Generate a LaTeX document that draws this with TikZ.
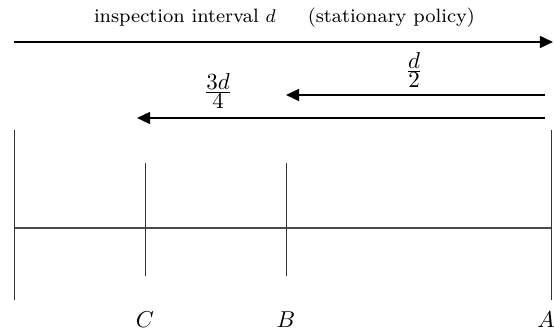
\documentclass[tikz,border=0pt]{standalone}
\usepackage{amsmath,amssymb}
\usepackage{tikz}
\usetikzlibrary{arrows.meta,positioning,calc}

\begin{document}
\begin{tikzpicture}[x=0.435pt, y=-0.435pt, >={Triangle[length=5.7pt,width=5.2pt]},
  bar/.style={draw, line width=0.4pt, black!80},
  axe/.style={draw, line width=0.5pt, black!70},
  arr/.style={->, line width=0.8pt},
  lbl/.style={inner sep=1pt}]
  \useasboundingbox (0,0) rectangle (554,336);
  % time line with the three inspection points
  \coordinate (l0) at (14,130); \coordinate (l1) at (14,300);
  \coordinate (a0) at (551,130); \coordinate (a1) at (551,300);
  \coordinate (c0) at (145,163); \coordinate (c1) at (145,276);
  \coordinate (b0) at (286,163); \coordinate (b1) at (286,276);
  \draw[axe] (14,228) coordinate (o) -- (551,228) coordinate (e);
  \draw[bar] (l0) -- (l1);
  \draw[bar] (a0) -- (a1);
  \draw[bar] (c0) -- (c1);
  \draw[bar] (b0) -- (b1);
  \node[lbl] (nc) at (145,320) {$C$};
  \node[lbl] (nb) at (286,320) {$B$};
  \node[lbl] (na) at (546,320) {$A$};
  % interval arrows
  \node[lbl, font=\fontsize{8.4}{10}\selectfont] (tt) at (284.5,18) {inspection interval $d$\hspace{14pt}(stationary policy)};
  \coordinate (s0) at (14,42); \coordinate (s1) at (553,42);
  \draw[arr] (s0) -- (s1);
  \coordinate (h0) at (545,95); \coordinate (h1) at (286,95);
  \draw[arr] (h0) -- (h1);
  \node[lbl] (nh) at (414,70) {$\frac{\textstyle d}{\textstyle 2}$};
  \coordinate (q0) at (545,118); \coordinate (q1) at (137,118);
  \draw[arr] (q0) -- (q1);
  \node[lbl] (nq) at (218,91) {$\frac{\textstyle 3d}{\textstyle 4}$};
\end{tikzpicture}
\end{document}
